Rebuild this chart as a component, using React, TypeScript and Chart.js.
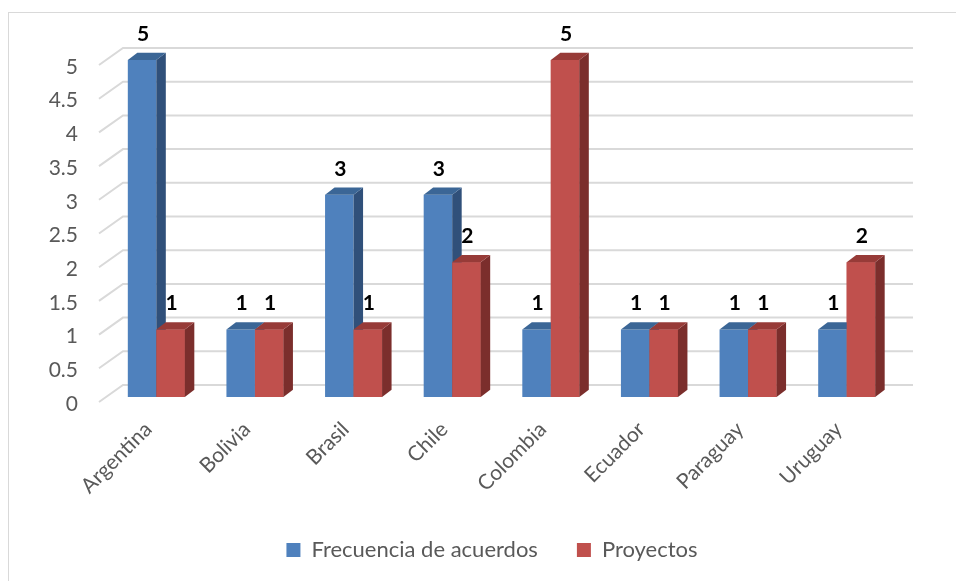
import React, { useEffect, useRef } from "react";
import { Chart, registerables } from "chart.js";

Chart.register(...registerables);

const categories = ["Argentina", "Bolivia", "Brasil", "Chile", "Colombia", "Ecuador", "Paraguay", "Uruguay"];
const frecuencia = [5, 1, 3, 3, 1, 1, 1, 1];
const proyectos = [1, 1, 1, 2, 5, 1, 1, 2];
const seriesNames = ["Frecuencia de acuerdos", "Proyectos"];
const yMin = 0;
const yMax = 5;
const yStep = 0.5;

const FONT = "Lato, 'Open Sans', sans-serif";
const TEXT = "#595959";
const GRID = "#D9D9D9";
const FRONT = ["#4F81BD", "#C0504D"];
const SIDE = ["#30507A", "#7B2E2C"];
const TOP = ["#3B6696", "#973B38"];

// 3D projection offsets (pixels)
const FRONT_DX = -8;
const FRONT_DY = 5;
const BACK_DX = 16;
const BACK_DY = -12;
const BAR_DX = 9.5;
const BAR_DY = -7.3;

function drawFaces(ctx: any, bar: any, di: number) {
  const p = bar.getProps(["x", "y", "base", "width"], true);
  const left = p.x - p.width / 2;
  const right = p.x + p.width / 2;
  const top = Math.min(p.y, p.base);
  const bottom = Math.max(p.y, p.base);
  ctx.fillStyle = SIDE[di];
  ctx.beginPath();
  ctx.moveTo(right, top);
  ctx.lineTo(right + BAR_DX, top + BAR_DY);
  ctx.lineTo(right + BAR_DX, bottom + BAR_DY);
  ctx.lineTo(right, bottom);
  ctx.closePath();
  ctx.fill();
  ctx.fillStyle = TOP[di];
  ctx.beginPath();
  ctx.moveTo(left, top);
  ctx.lineTo(left + BAR_DX, top + BAR_DY);
  ctx.lineTo(right + BAR_DX, top + BAR_DY);
  ctx.lineTo(right, top);
  ctx.closePath();
  ctx.fill();
}

const threeD = {
  id: "threeD",
  beforeDatasetsDraw(chart: any) {
    const { ctx, chartArea, scales } = chart;
    const ys = scales.y;
    ctx.save();
    ctx.strokeStyle = GRID;
    ctx.lineWidth = 2;
    ys.ticks.forEach((t: any) => {
      const yv = ys.getPixelForValue(t.value);
      ctx.beginPath();
      ctx.moveTo(chartArea.left + FRONT_DX, yv + FRONT_DY);
      ctx.lineTo(chartArea.left + BACK_DX, yv + BACK_DY);
      ctx.lineTo(chartArea.right + BACK_DX + 1, yv + BACK_DY);
      ctx.stroke();
    });
    ctx.restore();
  },
  afterDatasetsDraw(chart: any) {
    const { ctx } = chart;
    ctx.save();
    const n = chart.data.datasets.length;
    for (let di = 0; di < n; di++) {
      const meta = chart.getDatasetMeta(di);
      meta.data.forEach((bar: any) => {
        if (di > 0) bar.draw(ctx);
        drawFaces(ctx, bar, di);
      });
    }
    ctx.fillStyle = "#000000";
    ctx.font = `bold 21px ${FONT}`;
    ctx.textAlign = "center";
    ctx.textBaseline = "middle";
    chart.data.datasets.forEach((ds: any, di: number) => {
      const meta = chart.getDatasetMeta(di);
      meta.data.forEach((bar: any, i: number) => {
        const p = bar.getProps(["x", "y"], true);
        ctx.fillText(String(ds.data[i]), p.x + 1, p.y - 26);
      });
    });
    ctx.restore();
  },
};

export default function App() {
  const ref = useRef<HTMLCanvasElement | null>(null);
  useEffect(() => {
    if (!ref.current) return;
    const chart = new Chart(ref.current, {
      type: "bar",
      data: {
        labels: categories,
        datasets: [
          {
            label: seriesNames[0],
            data: frecuencia,
            backgroundColor: FRONT[0],
            borderWidth: 0,
            clip: false as any,
          },
          {
            label: seriesNames[1],
            data: proyectos,
            backgroundColor: FRONT[1],
            borderWidth: 0,
            clip: false as any,
          },
        ],
      },
      options: {
        animation: false,
        responsive: false,
        maintainAspectRatio: false,
        events: [],
        layout: { padding: { left: 28, right: 0, top: 60, bottom: 10 } },
        datasets: {
          bar: { categoryPercentage: 0.578, barPercentage: 1 },
        },
        scales: {
          x: {
            grid: { display: false },
            border: { display: false },
            ticks: {
              color: TEXT,
              font: { family: FONT, size: 21 },
              maxRotation: 45,
              minRotation: 45,
              padding: 12,
              labelOffset: -8,
              autoSkip: false,
            },
            afterFit: (s: any) => {
              s.height = 103;
            },
          },
          y: {
            min: yMin,
            max: yMax,
            grid: { display: false, drawTicks: false },
            border: { display: false },
            ticks: {
              stepSize: yStep,
              color: TEXT,
              font: { family: FONT, size: 21 },
              padding: 29,
              labelOffset: 7,
              callback: (v: any) => String(Number(v)),
            },
            afterFit: (s: any) => {
              s.width = 79;
            },
          },
          yRight: {
            type: "linear",
            position: "right",
            min: yMin,
            max: yMax,
            grid: { display: false, drawTicks: false },
            border: { display: false },
            ticks: { display: false },
            afterFit: (s: any) => {
              s.width = 60;
            },
          },
        },
        plugins: {
          tooltip: { enabled: false },
          legend: {
            position: "bottom",
            labels: {
              color: TEXT,
              font: { family: FONT, size: 22 },
              boxWidth: 14,
              boxHeight: 14,
              padding: 39,
            },
          },
        },
      },
      plugins: [threeD],
    });
    return () => chart.destroy();
  }, []);

  return (
    <div style={{ position: "fixed", left: 0, top: 0, width: 956, height: 581, overflow: "hidden", background: "#fff" }}>
      <div
        style={{
          position: "absolute",
          left: 8,
          top: 12,
          width: 1000,
          height: 1000,
          border: "1px solid #D9D9D9",
        }}
      />
      <canvas ref={ref} width={956} height={581} style={{ position: "absolute", left: 0, top: 0, width: 956, height: 581 }} />
    </div>
  );
}
